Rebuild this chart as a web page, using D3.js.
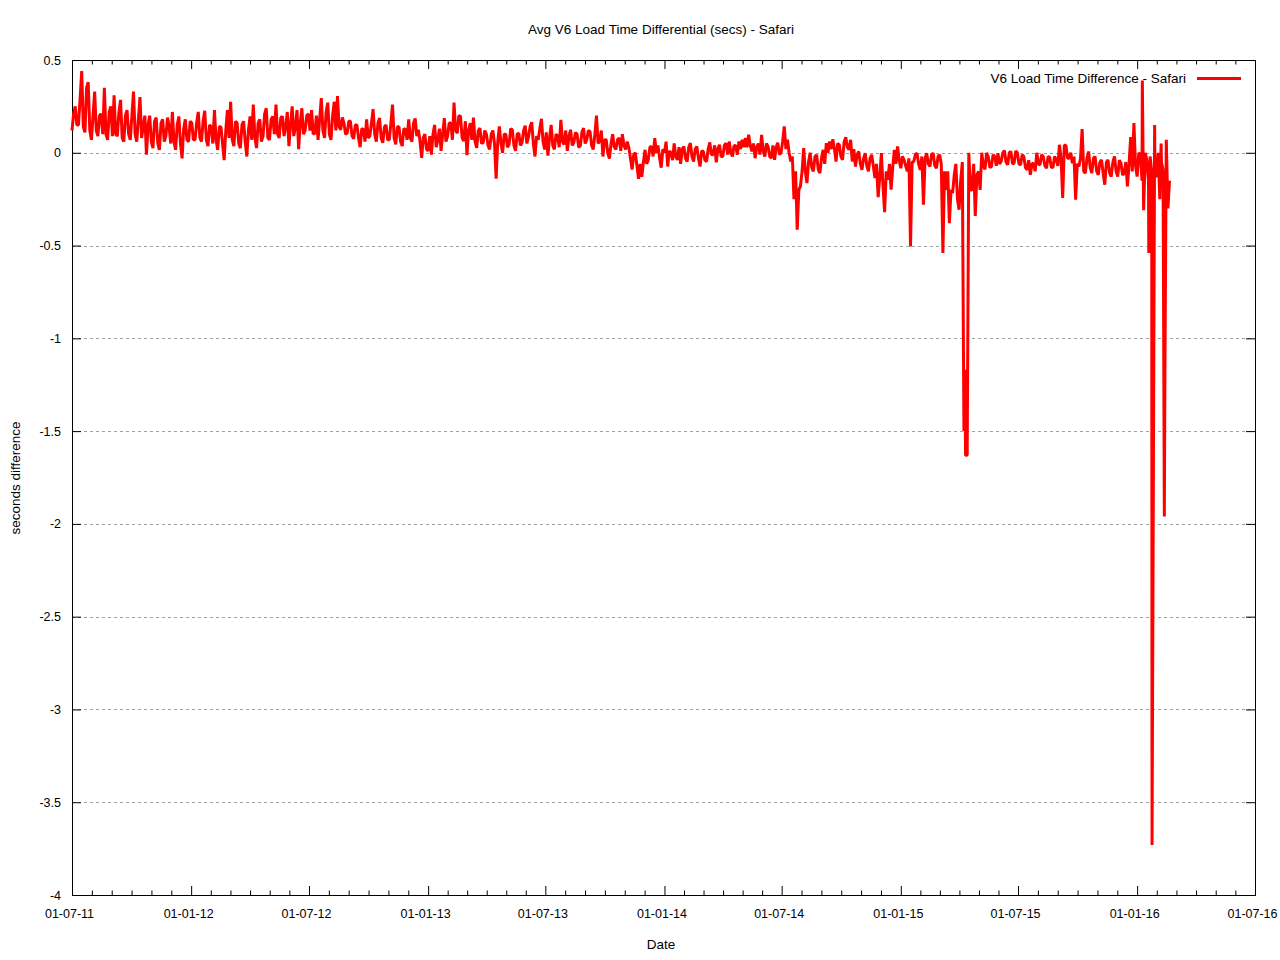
<!DOCTYPE html>
<html>
<head>
<meta charset="utf-8">
<script src="https://cdn.jsdelivr.net/npm/d3@7"></script>
<style>
  body { margin: 0; background: #fff; }
  svg text { font-family: "Liberation Sans", Arial, sans-serif; font-size: 13.5px; fill: #000; }
  svg .tick text { font-size: 12.5px; }
</style>
</head>
<body>
<div id="chart"></div>
<script>
// svg area to work in
var svgWidth = 1280;
var svgHeight = 960;

var margin = { top: 60, right: 25, bottom: 65, left: 72 };
var width = svgWidth - margin.left - margin.right;
var height = svgHeight - margin.top - margin.bottom;

// data: two readings in every 5-day bin starting 01-07-11 (seconds difference)
// diffSecs at the start of the bin, diffAlt half way through it
var startDate = new Date(2011, 6, 1);
var stepDays = 5;
var diffSecs = [
  0.12, 0.25, 0.15, 0.44, 0.11, 0.38, 0.07, 0.33, 0.09, 0.21,
  0.35, 0.07, 0.25, 0.31, 0.09, 0.285, 0.06, 0.23, 0.07, 0.33,
  0.06, 0.30, 0.14, -0.01, 0.20, 0.025, 0.19, 0.016, 0.18, 0.09,
  0.14, 0.22, 0.016, 0.196, -0.03, 0.18, 0.06, 0.16, 0.07, 0.22,
  0.06, 0.226, 0.036, 0.14, 0.23, 0.016, 0.14, -0.04, 0.23, 0.275,
  0.036, 0.16, 0.025, 0.17, -0.02, 0.196, 0.26, 0.025, 0.18, 0.09,
  0.24, 0.07, 0.196, 0.26, 0.08, 0.196, 0.14, 0.036, 0.25, 0.14,
  0.02, 0.24, 0.12, 0.21, 0.23, 0.106, 0.07, 0.295, 0.08, 0.27,
  0.07, 0.275, 0.306, 0.124, 0.16, 0.106, 0.17, 0.075, 0.15, 0.03,
  0.125, 0.18, 0.09, 0.235, 0.06, 0.187, 0.054, 0.15, 0.07, 0.26,
  0.045, 0.14, 0.036, 0.125, 0.18, 0.06, 0.185, 0.125, -0.027, 0.1,
  0.01, -0.01, 0.15, 0.07, 0.01, 0.187, 0.09, 0.16, 0.27, 0.106,
  0.196, 0.063, -0.013, 0.16, 0.19, 0.027, 0.133, 0.054, 0.1, 0.018,
  0.12, -0.14, 0.142, 0.0, 0.1, 0.045, 0.124, 0.01, 0.106, 0.054,
  0.146, 0.085, 0.165, -0.02, 0.07, 0.183, 0.018, -0.015, 0.15, 0.018,
  0.09, 0.178, 0.045, 0.01, 0.124, 0.054, 0.1, 0.036, 0.133, 0.07,
  0.115, 0.018, 0.2, 0.063, -0.02, 0.07, -0.032, 0.1, 0.018, 0.08,
  0.1, 0.018, 0.027, -0.09, 0.0, -0.14, -0.13, 0.016, -0.038, 0.034,
  0.079, 0.04, -0.08, 0.0, -0.074, 0.0, 0.05, -0.038, -0.06, 0.034,
  -0.047, 0.052, -0.047, 0.034, -0.074, 0.007, -0.047, 0.056, -0.011, -0.052,
  0.043, -0.02, 0.052, 0.061, -0.02, 0.038, 0.061, 0.07, 0.079, 0.097,
  0.007, -0.029, 0.05, 0.097, -0.02, 0.034, -0.029, -0.038, 0.054, 0.0,
  0.142, 0.07, -0.047, -0.25, -0.415, -0.18, 0.025, -0.163, 0.0, -0.1,
  -0.011, -0.11, 0.016, 0.052, 0.061, 0.073, -0.047, 0.043, -0.038, 0.084,
  0.016, -0.047, -0.074, 0.007, -0.092, -0.002, -0.1, -0.011, -0.136, -0.239,
  -0.002, -0.32, -0.145, -0.199, 0.016, 0.034, -0.083, -0.038, -0.1, -0.505,
  -0.047, -0.002, -0.092, -0.28, -0.002, -0.074, -0.002, -0.083, -0.011, -0.54,
  -0.2, -0.379, -0.217, -0.06, -0.307, -0.05, -1.63, 0.0, -0.2, -0.34,
  -0.1, 0.0, -0.09, -0.02, -0.074, -0.02, -0.002, -0.047, 0.012, -0.065,
  0.007, -0.056, 0.0, -0.065, -0.02, -0.092, -0.119, -0.056, 0.0, -0.065,
  -0.02, -0.083, -0.025, -0.078, -0.038, 0.043, -0.244, 0.04, -0.03, -0.056,
  -0.253, -0.074, 0.128, -0.11, 0.007, -0.11, -0.02, -0.119, -0.038, -0.172,
  -0.038, -0.128, -0.02, -0.128, -0.056, -0.11, -0.181, 0.084, 0.16, -0.128,
  -0.011, -0.31, -0.04, -0.02, -1.80, -0.13, -0.25, -0.09, 0.07, -0.15
];
var diffAlt = [
  0.21, 0.15, 0.29, 0.14, 0.35, 0.12, 0.2, 0.12, 0.2, 0.1,
  0.1, 0.22, 0.09, 0.1, 0.22, 0.08, 0.2, 0.1, 0.2, 0.1,
  0.18, 0.08, 0.2, 0.15, 0.06, 0.17, 0.05, 0.16, 0.06, 0.19,
  0.05, 0.06, 0.15, 0.05, 0.13, 0.07, 0.17, 0.07, 0.16, 0.08,
  0.17, 0.07, 0.15, 0.05, 0.07, 0.14, 0.05, 0.12, 0.08, 0.07,
  0.17, 0.05, 0.15, 0.06, 0.12, 0.07, 0.08, 0.16, 0.06, 0.21,
  0.08, 0.18, 0.1, 0.1, 0.19, 0.09, 0.22, 0.15, 0.09, 0.23,
  0.16, 0.1, 0.2, 0.12, 0.1, 0.2, 0.18, 0.12, 0.22, 0.1,
  0.2, 0.12, 0.14, 0.19, 0.1, 0.17, 0.09, 0.15, 0.08, 0.13,
  0.06, 0.08, 0.16, 0.1, 0.16, 0.08, 0.14, 0.07, 0.16, 0.08,
  0.14, 0.06, 0.13, 0.07, 0.08, 0.16, 0.09, 0.06, 0.08, 0.02,
  0.09, 0.1, 0.03, 0.13, 0.1, 0.06, 0.16, 0.07, 0.12, 0.2,
  0.08, 0.17, 0.12, 0.07, 0.06, 0.12, 0.05, 0.12, 0.04, 0.1,
  0.05, 0.06, 0.05, 0.1, 0.03, 0.13, 0.04, 0.1, 0.04, 0.12,
  0.05, 0.14, 0.05, 0.09, 0.13, 0.06, 0.11, 0.08, 0.04, 0.1,
  0.03, 0.06, 0.12, 0.09, 0.04, 0.11, 0.03, 0.11, 0.05, 0.12,
  0.04, 0.1, 0.05, 0.12, 0.07, 0.0, 0.05, 0.03, 0.07, 0.01,
  0.04, 0.06, -0.03, -0.01, -0.07, -0.06, -0.05, -0.06, 0.03, -0.02,
  0.0, -0.03, 0.02, 0.06, 0.01, -0.04, -0.02, 0.03, 0.02, -0.03,
  0.03, -0.02, 0.02, -0.03, 0.01, -0.04, 0.02, -0.01, 0.04, 0.02,
  -0.02, 0.04, -0.01, 0.0, 0.04, -0.01, 0.02, 0.03, 0.03, 0.04,
  0.05, 0.03, -0.01, 0.01, 0.05, -0.02, 0.04, 0.03, -0.01, 0.06,
  0.02, 0.0, -0.02, -0.1, -0.2, -0.1, -0.1, -0.05, -0.08, -0.02,
  -0.09, -0.03, -0.06, 0.0, 0.02, 0.02, 0.05, -0.02, 0.06, 0.03,
  0.07, 0.02, -0.01, -0.06, -0.03, -0.07, -0.03, -0.07, -0.06, -0.13,
  -0.18, -0.1, -0.06, -0.08, -0.06, -0.04, -0.02, -0.07, -0.03, -0.05,
  -0.01, -0.06, -0.02, -0.03, -0.06, -0.01, -0.07, -0.02, -0.06, -0.1,
  -0.1, -0.2, -0.12, -0.25, -0.15, -1.50, -1.63, -0.2, -0.06, -0.12,
  -0.2, -0.07, 0.0, -0.08, -0.01, -0.07, -0.06, 0.0, -0.05, 0.0,
  -0.06, 0.01, -0.06, -0.01, -0.08, -0.04, -0.06, -0.1, -0.06, -0.01,
  -0.07, -0.02, -0.08, -0.02, -0.07, -0.03, 0.04, -0.03, 0.0, -0.02,
  -0.06, -0.03, -0.1, -0.03, -0.08, -0.03, -0.1, -0.05, -0.11, -0.05,
  -0.11, -0.05, -0.1, -0.04, -0.12, -0.05, -0.06, -0.1, -0.07, 0.0,
  -0.15, 0.0, -0.15, -0.1, -0.12, 0.0, -0.05, -1.5, -0.3, null
];

// single readings that fall between the regular ones (spikes), as day offsets from startDate
var spikeDays = [1379, 1653, 1663, 1668, 1672, 1682, 1687, 1688];
var spikeSecs = [-1.17, 0.39, -0.54, -3.73, 0.15, 0.05, -1.96, -1.12];

// axis ticks
var xTickLabels = ["01-07-11", "01-01-12", "01-07-12", "01-01-13", "01-07-13", "01-01-14",
  "01-07-14", "01-01-15", "01-07-15", "01-01-16", "01-07-16"];
var yTicks = [0.5, 0, -0.5, -1, -1.5, -2, -2.5, -3, -3.5, -4];

var parseTick = d3.timeParse("%d-%m-%y");
var xTickDates = xTickLabels.map(parseTick);

// build the series
var points = [];
diffSecs.forEach(function(v, i) {
  points.push({ date: d3.timeHour.offset(startDate, i * stepDays * 24), v: v });
  if (diffAlt[i] != null) {
    points.push({ date: d3.timeHour.offset(startDate, (i * stepDays + 2.5) * 24), v: diffAlt[i] });
  }
});
spikeDays.forEach(function(d, i) {
  points.push({ date: d3.timeHour.offset(startDate, d * 24), v: spikeSecs[i] });
});
points.sort(function(a, b) { return a.date - b.date; });

var svg = d3.select("#chart")
  .append("svg")
  .attr("width", svgWidth)
  .attr("height", svgHeight);

var chartGroup = svg.append("g")
  .attr("transform", `translate(${margin.left}, ${margin.top})`);

var xScale = d3.scaleTime()
  .domain([xTickDates[0], xTickDates[xTickDates.length - 1]])
  .range([0, width]);

var yScale = d3.scaleLinear()
  .domain([-4, 0.5])
  .range([height, 0]);

// minor ticks: 5 evenly spaced between the major ones
var minorDates = [];
for (var k = 0; k < xTickDates.length - 1; k++) {
  var a = xScale(xTickDates[k]), b = xScale(xTickDates[k + 1]);
  for (var m = 1; m < 6; m++) minorDates.push(xScale.invert(a + (b - a) * m / 6));
}

// horizontal grid
chartGroup.append("g")
  .selectAll("line")
  .data(yTicks.filter(function(d) { return d !== 0.5 && d !== -4; }))
  .enter()
  .append("line")
  .attr("x1", 0)
  .attr("x2", width)
  .attr("y1", d => Math.round(yScale(d)) + 0.5)
  .attr("y2", d => Math.round(yScale(d)) + 0.5)
  .attr("stroke", "#a0a0a0")
  .attr("stroke-dasharray", "3,3")
  .attr("shape-rendering", "crispEdges");

// axes
var fmtY = function(d) { return String(d); };

chartGroup.append("g")
  .attr("transform", `translate(0, ${height})`)
  .call(d3.axisBottom(xScale).tickValues(xTickDates).tickSizeInner(-9).tickSizeOuter(0)
    .tickPadding(14).tickFormat(function(d, i) { return xTickLabels[i]; }))
  .call(g => g.select(".domain").remove())
  .call(g => g.selectAll(".tick text").attr("dx", -3));

chartGroup.append("g")
  .attr("transform", `translate(0, ${height})`)
  .call(d3.axisBottom(xScale).tickValues(minorDates).tickSizeInner(-4.5).tickSizeOuter(0).tickFormat(""))
  .call(g => g.select(".domain").remove());

chartGroup.append("g")
  .call(d3.axisTop(xScale).tickValues(xTickDates).tickSizeInner(-9).tickSizeOuter(0).tickFormat(""))
  .call(g => g.select(".domain").remove());

chartGroup.append("g")
  .call(d3.axisTop(xScale).tickValues(minorDates).tickSizeInner(-4.5).tickSizeOuter(0).tickFormat(""))
  .call(g => g.select(".domain").remove());

chartGroup.append("g")
  .call(d3.axisLeft(yScale).tickValues(yTicks).tickSizeInner(-9).tickSizeOuter(0)
    .tickPadding(11).tickFormat(fmtY))
  .call(g => g.select(".domain").remove());

chartGroup.append("g")
  .attr("transform", `translate(${width}, 0)`)
  .call(d3.axisRight(yScale).tickValues(yTicks).tickSizeInner(-9).tickSizeOuter(0).tickFormat(""))
  .call(g => g.select(".domain").remove());

// frame
chartGroup.append("rect")
  .attr("x", 0.5)
  .attr("y", 0.5)
  .attr("width", width)
  .attr("height", height)
  .attr("fill", "none")
  .attr("stroke", "#000")
  .attr("shape-rendering", "crispEdges");

// the series
var line = d3.line()
  .x(d => xScale(d.date))
  .y(d => yScale(d.v));

chartGroup.append("path")
  .datum(points)
  .attr("d", line)
  .attr("fill", "none")
  .attr("stroke", "#ff0000")
  .attr("stroke-width", 3)
  .attr("stroke-linejoin", "bevel");

// legend
svg.append("text")
  .attr("x", 1186)
  .attr("y", 83)
  .attr("text-anchor", "end")
  .text("V6 Load Time Difference - Safari");

svg.append("line")
  .attr("x1", 1197)
  .attr("x2", 1241)
  .attr("y1", 78.5)
  .attr("y2", 78.5)
  .attr("stroke", "#ff0000")
  .attr("stroke-width", 3);

// titles
svg.append("text")
  .attr("x", 661)
  .attr("y", 34)
  .attr("text-anchor", "middle")
  .text("Avg V6 Load Time Differential (secs) - Safari");

svg.append("text")
  .attr("x", 661)
  .attr("y", 949)
  .attr("text-anchor", "middle")
  .text("Date");

svg.append("text")
  .attr("transform", "rotate(-90)")
  .attr("x", -478)
  .attr("y", 20)
  .attr("text-anchor", "middle")
  .text("seconds difference");
</script>
</body>
</html>
